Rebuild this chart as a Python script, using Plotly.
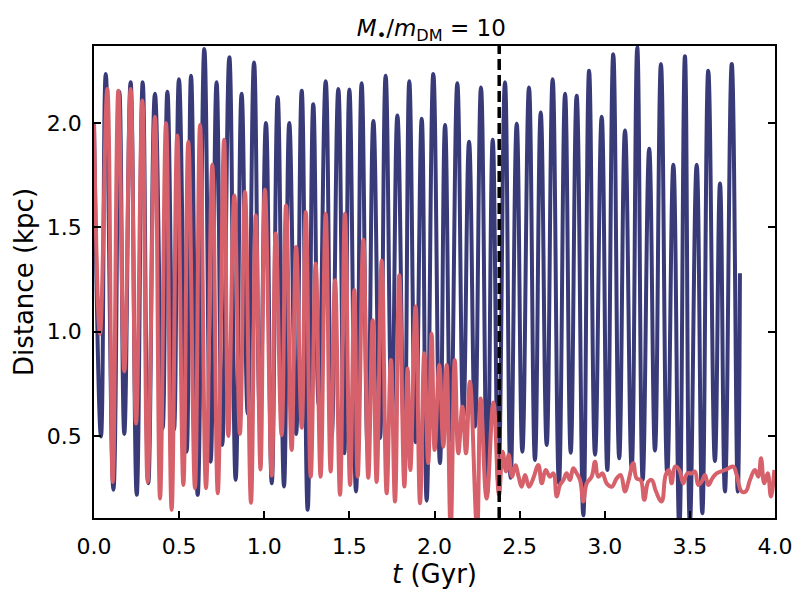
import plotly.graph_objects as go

# ---- data (extrema of the curves) ----
blue_t = [0.0, 0.041, 0.069, 0.114, 0.149, 0.178, 0.215, 0.251, 0.286, 0.319,
          0.358, 0.403, 0.431, 0.470, 0.499, 0.544, 0.570, 0.609, 0.648, 0.685,
          0.720, 0.753, 0.795, 0.832, 0.867, 0.903, 0.940, 0.975, 1.010, 1.044,
          1.079, 1.116, 1.147, 1.187, 1.220, 1.255, 1.288, 1.320, 1.361, 1.396,
          1.435, 1.470, 1.500, 1.539, 1.572, 1.608, 1.641, 1.680, 1.713, 1.749,
          1.782, 1.823, 1.852, 1.889, 1.925, 1.954, 1.993, 2.032, 2.062, 2.095,
          2.134, 2.169, 2.203, 2.238, 2.273, 2.310, 2.342, 2.375, 2.414, 2.447,
          2.483, 2.516, 2.555, 2.590, 2.624, 2.659, 2.694, 2.731, 2.767, 2.800,
          2.835, 2.874, 2.908, 2.943, 2.982, 3.015, 3.050, 3.085, 3.119, 3.158,
          3.191, 3.223, 3.261, 3.295, 3.330, 3.367, 3.403, 3.438, 3.471, 3.500,
          3.540, 3.573, 3.608, 3.647, 3.677, 3.706, 3.746, 3.781, 3.794]
blue_d = [2.0, 0.497, 2.235, 0.242, 2.15, 0.51, 2.195, 0.218, 2.195, 0.274,
          2.14, 0.536, 2.15, 0.53, 2.21, 0.425, 2.227, 0.218, 2.355, 0.377,
          2.195, 0.457, 2.315, 0.29, 2.14, 0.608, 2.29, 0.58, 2.0, 0.273,
          2.124, 0.258, 2.0, 0.51, 2.155, 0.146, 2.09, 0.648, 2.2, 0.5,
          2.163, 0.417, 2.16, 0.234, 2.19, 0.425, 2.01, 0.49, 2.227, 0.58,
          2.036, 0.43, 2.2, 0.47, 2.02, 0.19, 2.235, 0.37, 1.99, 0.48,
          2.19, 0.59, 1.91, 0.545, 2.17, 0.226, 1.92, 0.27, 2.195, 0.30,
          1.996, 0.425, 2.17, 0.385, 2.05, 0.457, 2.21, 0.273, 2.14, 0.42,
          2.13, 0.12, 2.25, 0.41, 2.03, 0.337, 2.33, 0.393, 1.964, 0.345,
          2.363, 0.29, 1.876, 0.43, 2.283, 0.32, 1.80, 0.05, 2.32, 0.08,
          1.80, 0.13, 2.25, 0.38, 1.71, 0.234, 2.283, 0.234, 1.28]

red_t = [0.0, 0.035, 0.078, 0.110, 0.143, 0.178, 0.215, 0.247, 0.284, 0.315,
         0.358, 0.388, 0.423, 0.456, 0.489, 0.525, 0.554, 0.593, 0.623, 0.658,
         0.695, 0.727, 0.764, 0.789, 0.824, 0.857, 0.887, 0.922, 0.950, 0.978,
         1.004, 1.044, 1.067, 1.102, 1.128, 1.161, 1.187, 1.220, 1.244, 1.273,
         1.302, 1.331, 1.361, 1.390, 1.416, 1.445, 1.474, 1.504, 1.529, 1.549,
         1.582, 1.611, 1.637, 1.660, 1.690, 1.719, 1.744, 1.768, 1.793, 1.823,
         1.842, 1.858, 1.889, 1.915, 1.940, 1.963, 1.983, 2.001, 2.028, 2.052,
         2.071, 2.095, 2.119, 2.140, 2.164, 2.185, 2.208, 2.250, 2.271, 2.306,
         2.346, 2.379, 2.400, 2.420, 2.436, 2.455, 2.475, 2.494, 2.512, 2.532,
         2.555, 2.580, 2.610, 2.630, 2.653, 2.678, 2.698, 2.718, 2.737, 2.757,
         2.776, 2.796, 2.815, 2.835, 2.855, 2.874, 2.894, 2.923, 2.943, 2.962,
         2.986, 3.011, 3.041, 3.070, 3.093, 3.119, 3.138, 3.168, 3.187, 3.211,
         3.232, 3.256, 3.276, 3.301, 3.334, 3.358, 3.377, 3.393, 3.413, 3.438,
         3.461, 3.485, 3.511, 3.530, 3.549, 3.569, 3.589, 3.608, 3.632, 3.657,
         3.706, 3.726, 3.755, 3.775, 3.804, 3.828, 3.853, 3.882, 3.902, 3.918,
         3.937, 3.957, 3.976, 3.996]
red_d = [2.0, 0.99, 2.163, 0.28, 2.155, 0.81, 2.163, 0.56, 2.108, 0.28,
         2.03, 0.2, 2.0, 0.146, 1.94, 0.265, 1.91, 0.25, 1.99, 0.25,
         1.80, 0.226, 1.92, 0.50, 1.653, 0.51, 1.67, 0.18, 1.557, 0.34,
         1.68, 0.31, 1.47, 0.505, 1.605, 0.433, 1.406, 0.54, 1.573, 0.305,
         1.326, 0.305, 1.565, 0.33, 1.246, 0.218, 1.565, 0.265, 1.2, 0.305,
         1.44, 0.30, 1.055, 0.28, 1.34, 0.226, 0.864, 0.186, 1.27, 0.258,
         0.824, 0.337, 1.12, 0.178, 0.896, 0.37, 0.99, 0.433, 0.84, 0.449,
         0.84, 0.05, 0.864, 0.417, 0.64, 0.417, 0.76, 0.05, 0.68, 0.2,
         0.66, 0.218, 0.425, 0.33, 0.41, 0.305, 0.36, 0.305, 0.257, 0.313,
         0.257, 0.297, 0.361, 0.273, 0.337, 0.305, 0.321, 0.21, 0.265, 0.289,
         0.321, 0.289, 0.345, 0.321, 0.289, 0.186, 0.273, 0.305, 0.377, 0.305,
         0.321, 0.273, 0.257, 0.297, 0.313, 0.234, 0.281, 0.369, 0.297, 0.289,
         0.194, 0.281, 0.289, 0.234, 0.186, 0.313, 0.337, 0.273, 0.353, 0.337,
         0.273, 0.321, 0.321, 0.329, 0.265, 0.281, 0.313, 0.265, 0.297, 0.321,
         0.337, 0.345, 0.353, 0.313, 0.234, 0.234, 0.289, 0.337, 0.305, 0.393,
         0.273, 0.321, 0.21, 0.337]

assert len(blue_t) == len(blue_d), (len(blue_t), len(blue_d))
assert len(red_t) == len(red_d), (len(red_t), len(red_d))

t_event = 2.38
x_ticks = [0.0, 0.5, 1.0, 1.5, 2.0, 2.5, 3.0, 3.5, 4.0]
y_ticks = [0.5, 1.0, 1.5, 2.0]

BLUE = "#393b79"
RED = "#d6616b"
FONT = "DejaVu Sans"

fig = go.Figure()
fig.add_trace(go.Scatter(x=blue_t, y=blue_d, mode="lines",
                         line=dict(color=BLUE, width=4, shape="spline", smoothing=1.3),
                         showlegend=False))
fig.add_trace(go.Scatter(x=red_t, y=red_d, mode="lines",
                         line=dict(color=RED, width=4, shape="spline", smoothing=1.2),
                         showlegend=False))

fig.add_shape(type="line", x0=t_event, x1=t_event, xref="x", y0=0, y1=1, yref="paper",
              line=dict(color="black", width=3.5, dash="11px,5px"), layer="above")

fig.update_layout(
    width=810, height=600,
    margin=dict(l=94, r=35, t=46, b=82),
    paper_bgcolor="white", plot_bgcolor="white",
    font=dict(family=FONT, size=22, color="black"),
    title=dict(text="<i>M</i><sub>•</sub>/<i>m</i><sub>DM</sub> = 10",
               x=0.5325, xanchor="center", y=0.953, yanchor="middle",
               font=dict(family=FONT, size=23, color="black")),
)
fig.update_xaxes(range=[0, 4], tickvals=x_ticks, ticktext=[f"{v:.1f}" for v in x_ticks],
                 ticks="inside", ticklen=7, tickwidth=1.5, tickcolor="black",
                 showline=True, linecolor="black", linewidth=1.5, mirror=True,
                 showgrid=False, zeroline=False,
                 title=dict(text="<i>t</i> (Gyr)", standoff=5),
                 ticklabelstandoff=8)
fig.update_yaxes(range=[0.107, 2.369], tickvals=y_ticks, ticktext=[f"{v:.1f}" for v in y_ticks],
                 ticks="inside", ticklen=7, tickwidth=1.5, tickcolor="black",
                 showline=True, linecolor="black", linewidth=1.5, mirror="allticks",
                 showgrid=False, zeroline=False,
                 title=dict(text="Distance (kpc)", standoff=6),
                 ticklabelstandoff=6)

fig.write_html("out.html")
